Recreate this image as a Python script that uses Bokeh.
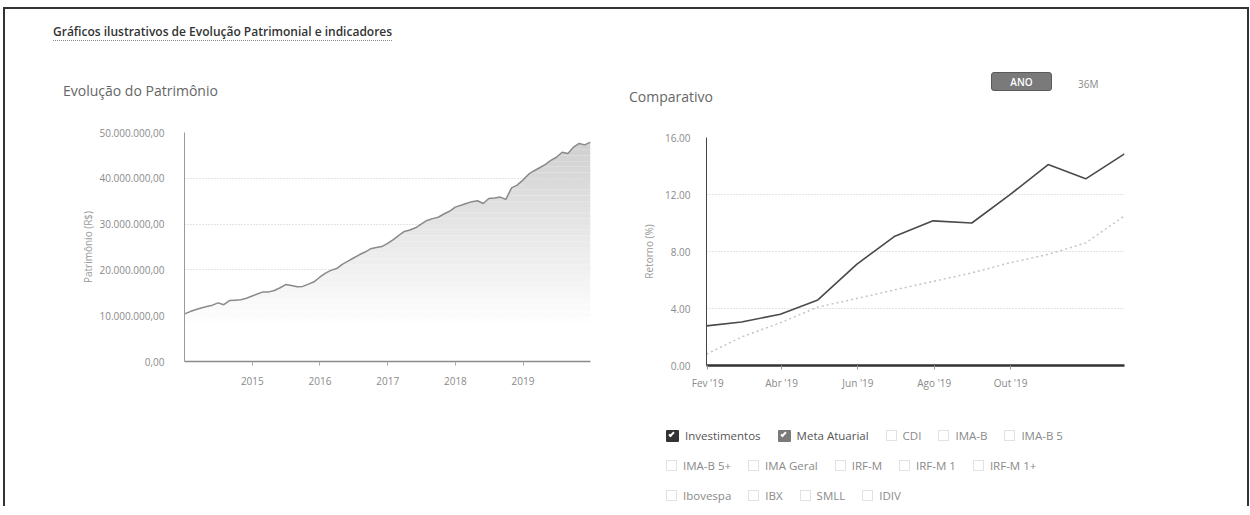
import numpy as np
import pandas as pd
from bokeh.plotting import figure
from bokeh.models import Div, FixedTicker, NumeralTickFormatter, Range1d, Spacer
from bokeh.layouts import column, row
from bokeh.embed import file_html
from bokeh.resources import INLINE

# ---------------- data ----------------
def month_ends(start, periods):
    s = pd.Timestamp(start)
    out = []
    for i in range(periods):
        first = (s + pd.DateOffset(months=i)).replace(day=1)
        out.append(first + pd.offsets.MonthEnd(0))
    return out

patrimonio_dates = month_ends("2013-12-01", 73)
patrimonio_mi = [
    10.4,
    10.9, 11.3, 11.7, 12.0, 12.3, 12.8, 12.4, 13.3, 13.4, 13.5, 13.8, 14.3,
    14.8, 15.2, 15.2, 15.5, 16.1, 16.8, 16.6, 16.3, 16.4, 16.9, 17.4, 18.4,
    19.3, 19.9, 20.3, 21.2, 21.9, 22.6, 23.3, 23.9, 24.6, 24.9, 25.1, 25.8,
    26.6, 27.5, 28.4, 28.7, 29.2, 30.0, 30.8, 31.2, 31.5, 32.2, 32.8, 33.7,
    34.1, 34.5, 34.9, 35.1, 34.5, 35.6, 35.7, 35.9, 35.4, 37.9, 38.5, 39.6,
    40.9, 41.6, 42.3, 43.0, 43.9, 44.6, 45.7, 45.4, 46.8, 47.6, 47.3, 47.9,
]
patrimonio_ticks = [0, 10_000_000, 20_000_000, 30_000_000, 40_000_000, 50_000_000]
patrimonio_tick_labels = ["0,00", "10.000.000,00", "20.000.000,00", "30.000.000,00",
                          "40.000.000,00", "50.000.000,00"]
year_ticks = ["2015-01-01", "2016-01-01", "2017-01-01", "2018-01-01", "2019-01-01"]
year_labels = ["2015", "2016", "2017", "2018", "2019"]

comparativo_dates = month_ends("2019-01-01", 12)
investimentos = [2.78, 3.05, 3.6, 4.6, 7.1, 9.05, 10.15, 10.0, 11.95, 14.1, 13.1, 14.85]
meta_atuarial = [0.8, 2.0, 3.0, 4.1, 4.7, 5.3, 5.9, 6.5, 7.2, 7.8, 8.6, 10.5]
retorno_ticks = [0, 4, 8, 12, 16]
mes_ticks = ["2019-02-01", "2019-04-01", "2019-06-01", "2019-08-01", "2019-10-01"]
mes_labels = ["Fev '19", "Abr '19", "Jun '19", "Ago '19", "Out '19"]

legend_rows = [
    ["Investimentos", "Meta Atuarial", "CDI", "IMA-B", "IMA-B 5"],
    ["IMA-B 5+", "IMA Geral", "IRF-M", "IRF-M 1", "IRF-M 1+"],
    ["Ibovespa", "IBX", "SMLL", "IDIV"],
]
legend_checked = {"Investimentos": "#333333", "Meta Atuarial": "#7a7a7a"}

FONT = "Open Sans"

def ms(d):
    return pd.Timestamp(d).value / 1e6

# ---------------- left chart ----------------
pat_vals = np.array(patrimonio_mi) * 1e6
left = figure(width=623, height=292, x_axis_type="datetime", output_backend="svg",
              toolbar_location=None,
              x_range=Range1d(patrimonio_dates[0], patrimonio_dates[-1]),
              y_range=Range1d(0, 50_000_000),
              min_border_left=179, min_border_right=38, min_border_top=23,
              min_border_bottom=40, margin=0)
left.outline_line_color = None

# vertical gradient fill below the line (bands)
levels = np.linspace(0, 50_000_000, 41)
for lo, hi in zip(levels[:-1], levels[1:]):
    mid = (lo + hi) / 2
    t = np.clip((mid - 8_000_000) / (50_000_000 - 8_000_000), 0, 1)
    g = int(round(255 - t * 50))
    col = "#%02x%02x%02x" % (g, g, g)
    left.varea(x=patrimonio_dates, y1=np.minimum(pat_vals, lo), y2=np.minimum(pat_vals, hi),
               fill_color=col, fill_alpha=1.0)
left.line(patrimonio_dates, pat_vals, line_color="#8a8a8a", line_width=1.5)

left.xgrid.visible = False
left.ygrid.grid_line_color = "#c8c8c8"
left.ygrid.grid_line_dash = "1 2"
left.ygrid.ticker = FixedTicker(ticks=patrimonio_ticks)
left.yaxis.ticker = FixedTicker(ticks=patrimonio_ticks)
left.yaxis.major_label_overrides = {v: s for v, s in zip(patrimonio_ticks, patrimonio_tick_labels)}
left.yaxis.axis_label = "Patrimônio (R$)"
left.yaxis.axis_line_color = "#9a9a9a"
left.yaxis.major_tick_line_color = None
left.yaxis.minor_tick_line_color = None
left.yaxis.major_label_standoff = 14
left.yaxis.axis_label_standoff = 1
left.xaxis.ticker = FixedTicker(ticks=[ms(d) for d in year_ticks])
left.xaxis.major_label_overrides = {ms(d): s for d, s in zip(year_ticks, year_labels)}
left.xaxis.axis_line_color = "#8a8a8a"
left.xaxis.axis_line_width = 1.5
left.xaxis.major_tick_line_color = "#aaaaaa"
left.xaxis.major_tick_in = 0
left.xaxis.major_tick_out = 4
left.xaxis.minor_tick_line_color = None
left.xaxis.major_label_standoff = 11

# ---------------- right chart ----------------
right = figure(width=619, height=288, x_axis_type="datetime", output_backend="svg",
               toolbar_location=None,
               x_range=Range1d(comparativo_dates[0], comparativo_dates[-1]),
               y_range=Range1d(0, 16),
               min_border_left=78, min_border_right=123, min_border_top=23,
               min_border_bottom=37, margin=0)
right.outline_line_color = None
right.line(comparativo_dates, meta_atuarial, line_color="#c4c4c4", line_width=1.5,
           line_dash="2 3")
right.line(comparativo_dates, investimentos, line_color="#4a4a4a", line_width=1.6)
right.xgrid.visible = False
right.ygrid.grid_line_color = "#c8c8c8"
right.ygrid.grid_line_dash = "1 2"
right.yaxis.ticker = FixedTicker(ticks=retorno_ticks)
right.ygrid.ticker = FixedTicker(ticks=retorno_ticks)
right.yaxis.formatter = NumeralTickFormatter(format="0.00")
right.yaxis.axis_label = "Retorno (%)"
right.yaxis.axis_line_color = "#444444"
right.yaxis.major_tick_line_color = None
right.yaxis.minor_tick_line_color = None
right.yaxis.major_label_standoff = 10
right.yaxis.axis_label_standoff = 6
right.xaxis.ticker = FixedTicker(ticks=[ms(d) for d in mes_ticks])
right.xaxis.major_label_overrides = {ms(d): s for d, s in zip(mes_ticks, mes_labels)}
right.xaxis.axis_line_color = "#333333"
right.xaxis.axis_line_width = 2.5
right.xaxis.major_tick_line_color = "#999999"
right.xaxis.major_tick_in = 0
right.xaxis.major_tick_out = 4
right.xaxis.minor_tick_line_color = None
right.xaxis.major_label_standoff = 6

for p in (left, right):
    for ax in (p.xaxis[0], p.yaxis[0]):
        ax.major_label_text_font = FONT
        ax.major_label_text_font_size = "10px"
        ax.major_label_text_color = "#8a8a8a"
        ax.axis_label_text_font = FONT
        ax.axis_label_text_font_size = "10px"
        ax.axis_label_text_font_style = "normal"
        ax.axis_label_text_color = "#9a9a9a"

# ---------------- header & legend ----------------
header_html = f"""
<div style="position:relative;width:1242px;height:100px;font-family:'{FONT}';">
  <div style="position:absolute;left:48px;top:15px;font-size:12px;font-weight:600;color:#333;
              border-bottom:1px dotted #888;padding-bottom:1px;line-height:15px;white-space:nowrap;">
    Gráficos ilustrativos de Evolução Patrimonial e indicadores</div>
  <div style="position:absolute;left:58px;top:73px;font-size:14px;color:#666;line-height:18px;white-space:nowrap;">
    Evolução do Patrimônio</div>
  <div style="position:absolute;left:624px;top:79px;font-size:14px;color:#666;line-height:18px;white-space:nowrap;">
    Comparativo</div>
  <div style="position:absolute;left:986px;top:63px;width:61px;height:19px;background:#7a7a7a;
              border:1px solid #5a5a5a;border-radius:3px;color:#fff;font-size:10px;font-weight:600;
              text-align:center;line-height:19px;">ANO</div>
  <div style="position:absolute;left:1073px;top:68px;font-size:10px;color:#888;line-height:14px;">36M</div>
</div>
"""
header = Div(text=header_html, width=1242, height=100, margin=0)

def box_html(name):
    if name in legend_checked:
        bg = legend_checked[name]
        return (f'<span style="display:inline-block;position:relative;width:13px;height:12px;'
                f'background:{bg};border-radius:1px;margin-right:6px;vertical-align:middle;">'
                '<span style="position:absolute;left:4px;top:1px;width:3px;height:6px;'
                'border:solid #fff;border-width:0 2px 2px 0;transform:rotate(45deg);"></span></span>')
    return ('<span style="display:inline-block;width:11px;height:11px;border:1px solid #e2e2e2;'
            'margin-right:6px;vertical-align:middle;"></span>')

rows_html = []
for i, names in enumerate(legend_rows):
    items = []
    for n in names:
        colr = "#555" if n in legend_checked else "#8a8a8a"
        items.append(f'<span style="display:inline-flex;align-items:center;margin-right:17px;'
                     f'font-size:11.5px;color:{colr};white-space:nowrap;">{box_html(n)}{n}</span>')
    rows_html.append(f'<div style="position:absolute;left:661px;top:{25 + i * 30}px;height:18px;'
                     f'display:flex;align-items:center;">{"".join(items)}</div>')
legend_html = (f'<div style="position:relative;width:1242px;height:104px;font-family:\'{FONT}\';">'
               + "".join(rows_html) + "</div>")
legend = Div(text=legend_html, width=1242, height=104, margin=0)

right_col = column(Spacer(height=5, width=619, margin=0), right, margin=0)
root = column(header, row(left, right_col, margin=0), legend, margin=(7, 0, 0, 3),
              styles={"border-top": "2px solid #333", "border-left": "2px solid #333",
                      "border-right": "2px solid #333"})

open("out.html", "w").write(file_html(root, INLINE))
